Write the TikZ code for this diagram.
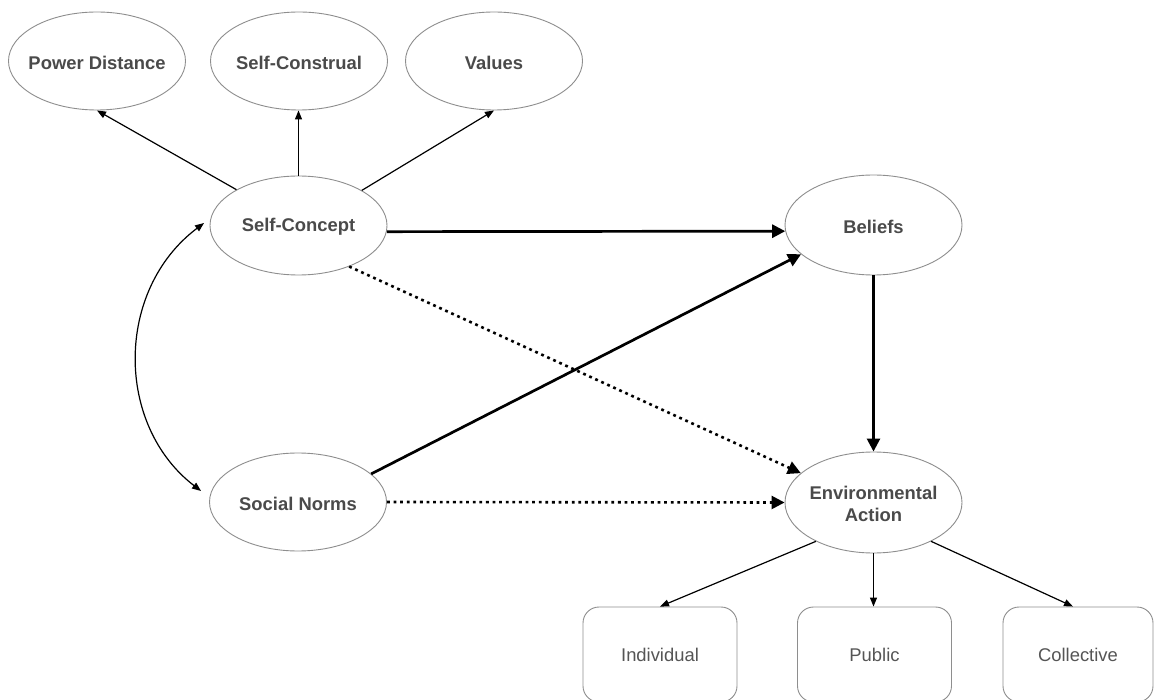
\documentclass[tikz,border=0pt]{standalone}
\usepackage{fontspec}
\setmainfont{Liberation Sans}
\usetikzlibrary{arrows.meta,shapes.geometric}
\definecolor{edgegray}{HTML}{8E8E8E}
\definecolor{txtgray}{HTML}{4A4A4A}
\definecolor{boxtxt}{HTML}{555555}
\begin{document}
\begin{tikzpicture}[x=1pt,y=-1pt,
  lbl/.style={font=\bfseries\fontsize{18.4}{21.5}\selectfont,text=txtgray,align=center,inner sep=0pt,yshift=-1.5pt},
  oval/.style={ellipse,draw=edgegray,line width=0.9pt,minimum width=177pt,minimum height=98pt,inner sep=0pt,
    label={[lbl]center:#1}},
  boxn/.style={rectangle,rounded corners=16pt,draw=edgegray,line width=0.9pt,minimum width=154pt,minimum height=95pt,
    font=\fontsize{18.4}{22}\selectfont,text=boxtxt},
  thinarr/.style={line width=1.2pt,-{Triangle[length=9pt,width=7pt]}},
  thickarr/.style={line width=2.7pt,-{Triangle[length=13pt,width=13pt]}},
  dotarr/.style={line width=2.6pt,dash pattern=on 2.8pt off 3.8pt,-{Triangle[length=13pt,width=13pt]}}
]
\clip (0,0) rectangle (1154,700);
\fill[white] (0,0) rectangle (1154,700);

% nodes
\node[oval={Power Distance}] (pd) at (97,61) {};
\node[oval={Self-Construal}] (scn) at (299,61) {};
\node[oval={Values}] (val) at (494,61) {};
\node[oval={Self-Concept},minimum height=99pt] (sc) at (298.5,225.5) {};
\node[oval={Beliefs},minimum height=100pt] (bel) at (873.5,225) {};
\node[oval={Social Norms}] (sn) at (298,502) {};
\node[oval={Environmental\\Action},minimum height=101pt] (ea) at (873.5,502.5) {};

\node[boxn] (ind) at (660,654.5) {Individual};
\node[boxn] (pub) at (874.5,654.5) {Public};
\node[boxn,minimum width=150pt] (col) at (1078,654.5) {Collective};

% top arrows
\draw[thinarr] (sc.150.5) -- (pd.south);
\draw[thinarr] (sc.north) -- (sc.north |- scn.south);
\draw[thinarr] (sc.29.5) -- (val.south);

% main arrows
\draw[thickarr] (sc.-4.3) -- (bel.184.6);
\draw[thickarr] (sn.21.3) -- (bel.202.2);
\draw[thickarr] (bel.south) -- (ea.north);
\draw[dotarr] (sc.-39) -- (ea.158.3);
\draw[dotarr] (sn.east) -- (ea.west);

% curved double arrow
\draw[line width=1.2pt,{Triangle[length=9pt,width=7pt]}-{Triangle[length=9pt,width=7pt]}]
  ([shift={(-5.5,-2.5)}]sc.west) .. controls (115,290) and (115,425) .. ([shift={(-8,-11)}]sn.west);

% bottom arrows
\draw[thinarr] (ea.214.2) -- (ind.north);
\draw[thinarr] (ea.south) -- (ea.south |- pub.north);
\draw[thinarr] (ea.-34.7) -- ([xshift=-5pt]col.north);
\end{tikzpicture}
\end{document}
